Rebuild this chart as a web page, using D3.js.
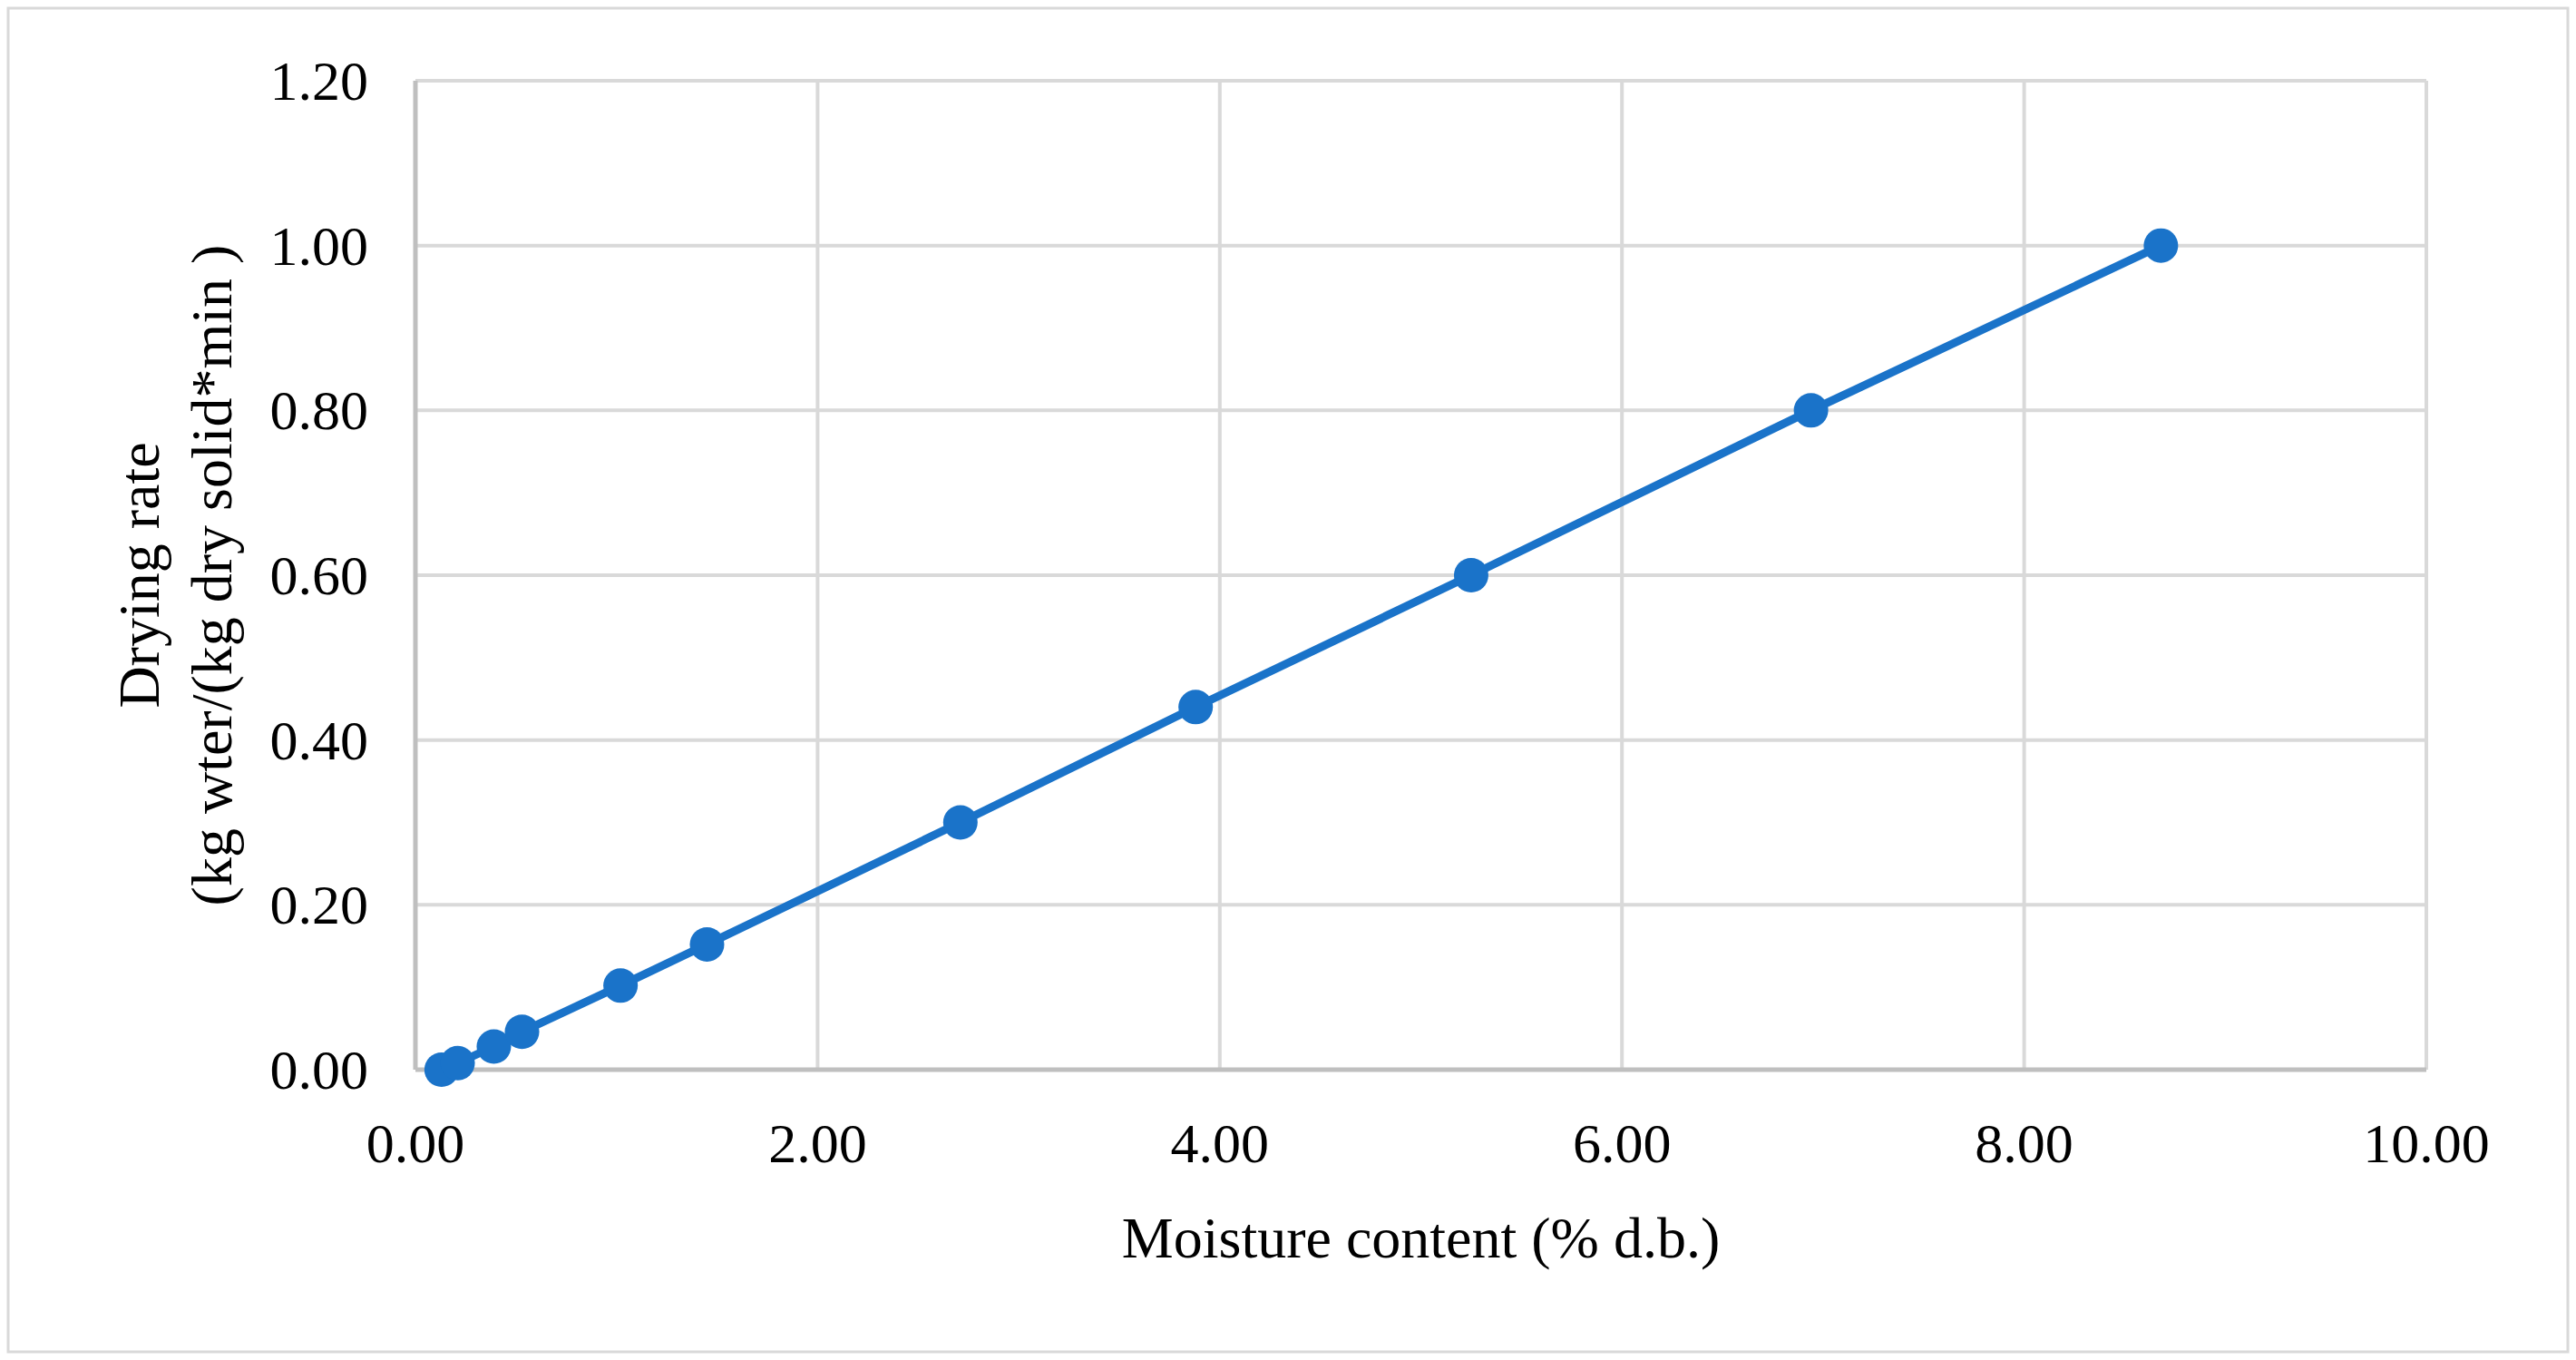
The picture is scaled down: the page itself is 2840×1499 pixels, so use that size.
<!DOCTYPE html><html><head><script src="https://cdn.jsdelivr.net/npm/d3@7"></script>
<style>body{margin:0;background:#fff}</style></head><body><script>
const xValues=[0.13,0.21,0.39,0.53,1.02,1.45,2.71,3.88,5.25,6.94,8.68];
const yValues=[0.0,0.008,0.028,0.046,0.102,0.152,0.30,0.44,0.60,0.80,1.00];
const xTicks=[0,2,4,6,8,10];
const yTicks=[0,0.2,0.4,0.6,0.8,1.0,1.2];
const W=2840,H=1499;
const svg=d3.select("body").append("svg").attr("width",W).attr("height",H).style("font-family","'Liberation Serif',serif");
svg.append("rect").attr("x",9).attr("y",9).attr("width",W-18).attr("height",H-18).attr("fill","#fff").attr("stroke","#d9d9d9").attr("stroke-width",3);
const x=d3.scaleLinear().domain([0,10]).range([458,2675]);
const y=d3.scaleLinear().domain([0,1.2]).range([1179,89]);
const g=svg.append("g");
g.selectAll(".vx").data(xTicks).join("line").attr("x1",d=>x(d)).attr("x2",d=>x(d)).attr("y1",y(0)).attr("y2",y(1.2)).attr("stroke","#d9d9d9").attr("stroke-width",4);
g.selectAll(".hy").data(yTicks).join("line").attr("x1",x(0)).attr("x2",x(10)).attr("y1",d=>y(d)).attr("y2",d=>y(d)).attr("stroke","#d9d9d9").attr("stroke-width",4);
g.append("line").attr("x1",x(0)).attr("x2",x(10)).attr("y1",y(0)).attr("y2",y(0)).attr("stroke","#bfbfbf").attr("stroke-width",5);
g.append("line").attr("x1",x(0)).attr("x2",x(0)).attr("y1",y(0)).attr("y2",y(1.2)).attr("stroke","#bfbfbf").attr("stroke-width",5);
g.selectAll(".xt").data(xTicks).join("text").attr("x",d=>x(d)).attr("y",y(0)+102).attr("text-anchor","middle").attr("font-size",62).text(d=>d.toFixed(2));
g.selectAll(".yt").data(yTicks).join("text").attr("x",x(0)-52).attr("y",d=>y(d)+21).attr("text-anchor","end").attr("font-size",62).text(d=>d.toFixed(2));
const pts=xValues.map((v,i)=>[v,yValues[i]]);
g.append("path").datum(pts).attr("d",d3.line().x(d=>x(d[0])).y(d=>y(d[1]))).attr("fill","none").attr("stroke","#1a73c9").attr("stroke-width",9);
g.selectAll(".pt").data(pts).join("circle").attr("cx",d=>x(d[0])).attr("cy",d=>y(d[1])).attr("r",19).attr("fill","#1a73c9");
svg.append("text").attr("x",(x(0)+x(10))/2).attr("y",1386).attr("text-anchor","middle").attr("font-size",64).text("Moisture content (% d.b.)");
const yl=svg.append("text").attr("transform",`translate(0,${(y(0)+y(1.2))/2}) rotate(-90)`).attr("text-anchor","middle").attr("font-size",64);
yl.append("tspan").attr("x",0).attr("y",175).text("Drying rate");
yl.append("tspan").attr("x",0).attr("y",255).text("(kg wter/(kg dry solid*min )");
</script></body></html>
